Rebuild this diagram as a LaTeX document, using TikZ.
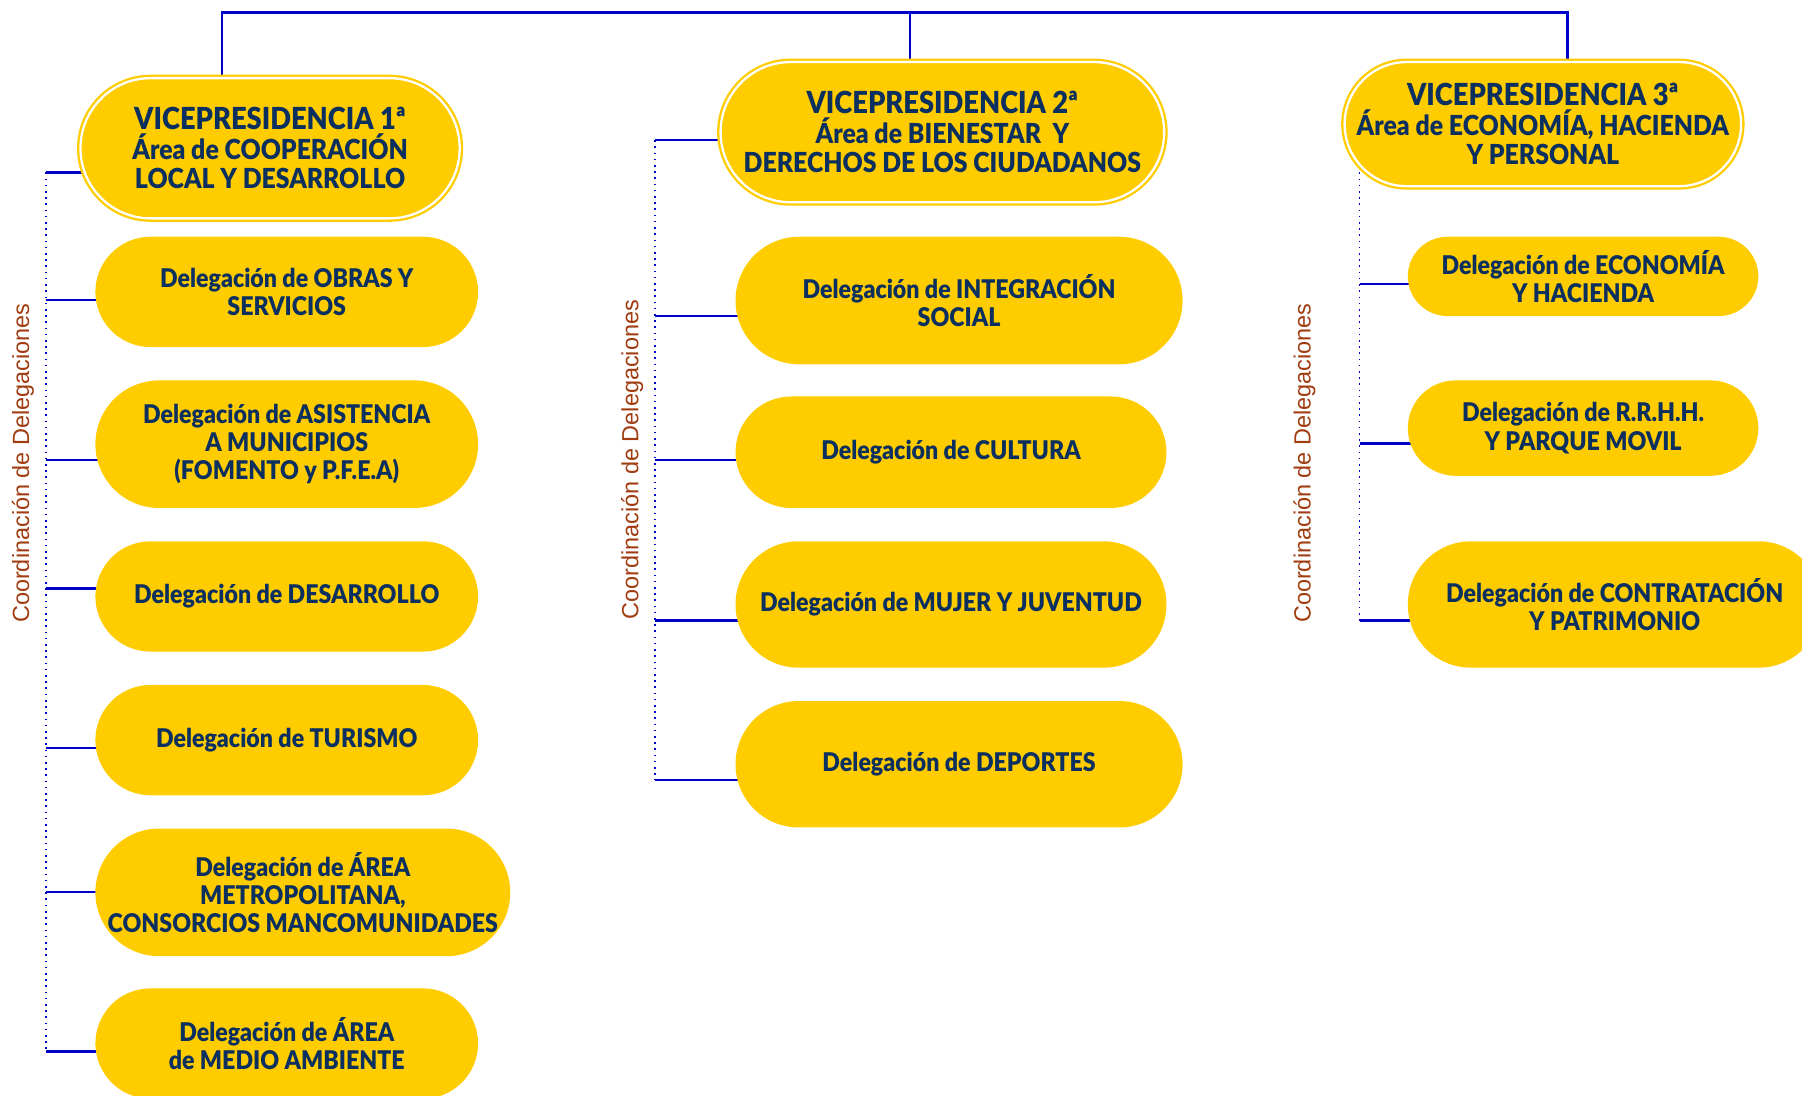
\documentclass[tikz,border=0pt]{standalone}
\usepackage{fontspec}
\setmainfont{Lato}[BoldFont={Lato Black}, FakeStretch=0.9]
\newfontfamily\coordfont{Liberation Sans}
\pgfdeclarelayer{bg}
\pgfsetlayers{bg,main}
\definecolor{ybox}{HTML}{FFCC00}
\definecolor{navy}{HTML}{0B2F5E}
\definecolor{lblue}{HTML}{0000CC}
\definecolor{rust}{HTML}{A03C10}
\newcommand{\vptitle}[1]{{\fontsize{13.2}{14}\selectfont #1}}
\tikzset{
  sz/.style 2 args={minimum width=#1*0.5pt, minimum height=#2*0.5pt, rounded corners=#2*0.25pt},
  delbox/.style={fill=ybox, text=navy, font=\bfseries\fontsize{11.2}{12.3}\selectfont, align=center, inner sep=0pt},
  vpbox/.style={delbox, font=\bfseries\fontsize{12}{12.8}\selectfont, draw=ybox, double=white, double distance=1pt, line width=1pt},
  conn/.style={draw=lblue, line width=1pt},
  spine/.style={draw=lblue, line width=0.7pt, dotted},
  coordlbl/.style={rotate=90, text=rust, font=\coordfont\fontsize{10.2}{12}\selectfont, inner sep=0pt}
}
\begin{document}
\begin{tikzpicture}[x=0.5pt, y=-0.5pt]
\useasboundingbox (0,0) rectangle (1568,953);
\clip (0,0) rectangle (1568,953);

% Vice-presidencies
\node[vpbox, sz={330}{122}] (vp1) at (235,129) {\vptitle{VICEPRESIDENCIA 1ª}\\Área de COOPERACIÓN\\LOCAL Y DESARROLLO};
\node[vpbox, sz={386}{122}] (vp2) at (820,115) {\vptitle{VICEPRESIDENCIA 2ª}\\Área de BIENESTAR\ \ Y\\DERECHOS DE LOS CIUDADANOS};
\node[vpbox, sz={345}{108}] (vp3) at (1342.5,108) {\vptitle{VICEPRESIDENCIA 3ª}\\Área de ECONOMÍA, HACIENDA\\Y PERSONAL};

% Column 1
\node[delbox, sz={333}{96}]  (d11) at (249.5,254)   {Delegación de OBRAS Y\\SERVICIOS};
\node[delbox, sz={333}{111}] (d12) at (249.5,386.5) {Delegación de ASISTENCIA\\A MUNICIPIOS\\(FOMENTO y P.F.E.A)};
\node[delbox, sz={333}{96}]  (d13) at (249.5,519)   {Delegación de DESARROLLO};
\node[delbox, sz={333}{96}]  (d14) at (249.5,644)   {Delegación de TURISMO};
\node[delbox, sz={361}{111}] (d15) at (263.5,776.5) {Delegación de ÁREA\\METROPOLITANA,\\CONSORCIOS MANCOMUNIDADES};
\node[delbox, sz={333}{96}]  (d16) at (249.5,908)   {Delegación de ÁREA\\de MEDIO AMBIENTE};

% Column 2
\node[delbox, sz={389}{111}] (d21) at (834.5,261.5) {Delegación de INTEGRACIÓN\\SOCIAL};
\node[delbox, sz={375}{97}]  (d22) at (827.5,393.5) {Delegación de CULTURA};
\node[delbox, sz={375}{110}] (d23) at (827.5,526)   {Delegación de MUJER Y JUVENTUD};
\node[delbox, sz={389}{110}] (d24) at (834.5,665)   {Delegación de DEPORTES};

% Column 3
\node[delbox, sz={305}{69}]  (d31) at (1377.5,240.5) {Delegación de ECONOMÍA\\Y HACIENDA};
\node[delbox, sz={305}{83}]  (d32) at (1377.5,372.5) {Delegación de R.R.H.H.\\Y PARQUE MOVIL};
\node[delbox, sz={360}{110}] (d33) at (1405,526)     {Delegación de CONTRATACIÓN\\Y PATRIMONIO};

% Coordination labels
\node[coordlbl] (cl1) at (20,403)   {Coordinación de Delegaciones};
\node[coordlbl] (cl2) at (550,400)  {Coordinación de Delegaciones};
\node[coordlbl] (cl3) at (1135,403) {Coordinación de Delegaciones};

% Connector coordinates
\coordinate (t1) at (193,11);
\coordinate (t2) at (792,11);
\coordinate (t3) at (1364,11);
\coordinate (s1a) at (40,150);
\coordinate (s1b) at (40,915);
\coordinate (s2a) at (570,122);
\coordinate (s2b) at (570,679);
\coordinate (s3a) at (1183,150);
\coordinate (s3b) at (1183,540);
\coordinate (h11) at (40,261);
\coordinate (h12) at (40,400);
\coordinate (h13) at (40,512);
\coordinate (h14) at (40,651);
\coordinate (h15) at (40,776);
\coordinate (h21) at (570,275);
\coordinate (h22) at (570,400);
\coordinate (h23) at (570,540);
\coordinate (h31) at (1183,247);
\coordinate (h32) at (1183,386);

\begin{pgfonlayer}{bg}
  % top bar
  \draw[conn] (t1 |- vp1.north) -- (t1) -- (t3) -- (t3 |- vp3.north);
  \draw[conn] (t2) -- (t2 |- vp2.north);
  % column 1
  \draw[spine] (s1a) -- (s1b);
  \draw[conn] (s1a) -- ([xshift=8pt]s1a -| vp1.west);
  \draw[conn] (h11) -- ([xshift=4pt]h11 -| d11.west);
  \draw[conn] (h12) -- ([xshift=4pt]h12 -| d12.west);
  \draw[conn] (h13) -- ([xshift=4pt]h13 -| d13.west);
  \draw[conn] (h14) -- ([xshift=4pt]h14 -| d14.west);
  \draw[conn] (h15) -- ([xshift=4pt]h15 -| d15.west);
  \draw[conn] (s1b) -- ([xshift=4pt]s1b -| d16.west);
  % column 2
  \draw[spine] (s2a) -- (s2b);
  \draw[conn] (s2a) -- ([xshift=8pt]s2a -| vp2.west);
  \draw[conn] (h21) -- ([xshift=4pt]h21 -| d21.west);
  \draw[conn] (h22) -- ([xshift=4pt]h22 -| d22.west);
  \draw[conn] (h23) -- ([xshift=4pt]h23 -| d23.west);
  \draw[conn] (s2b) -- ([xshift=4pt]s2b -| d24.west);
  % column 3
  \draw[spine] (s3a) -- (s3b);
  \draw[conn] (h31) -- ([xshift=4pt]h31 -| d31.west);
  \draw[conn] (h32) -- ([xshift=4pt]h32 -| d32.west);
  \draw[conn] (s3b) -- ([xshift=4pt]s3b -| d33.west);
\end{pgfonlayer}
\end{tikzpicture}
\end{document}
